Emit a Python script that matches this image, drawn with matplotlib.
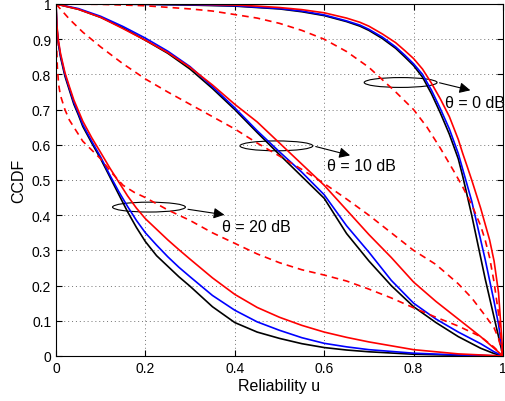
import matplotlib
matplotlib.use("Agg")
import matplotlib.pyplot as plt
from matplotlib.patches import Ellipse
from matplotlib.ticker import FormatStrFormatter

plt.rcParams['font.family'] = ['Liberation Sans', 'DejaVu Sans']

# theta = 0 dB
u0 = [0, 0.1, 0.2, 0.3, 0.4, 0.45, 0.5, 0.55, 0.6, 0.65, 0.68, 0.7, 0.73, 0.76, 0.78, 0.8, 0.82,
      0.84, 0.86, 0.88, 0.9, 0.91, 0.92, 0.93, 0.94, 0.95, 0.96, 0.97, 0.98, 0.99, 1.0]
black0 = [1, 1, 0.999, 0.997, 0.994, 0.99, 0.986, 0.978, 0.967, 0.95, 0.937, 0.925, 0.902, 0.874, 0.85, 0.825, 0.792,
          0.745, 0.69, 0.63, 0.56, 0.51, 0.455, 0.40, 0.34, 0.28, 0.22, 0.165, 0.11, 0.055, 0]
blue0 = [1, 1, 0.999, 0.998, 0.995, 0.991, 0.987, 0.98, 0.969, 0.952, 0.94, 0.928, 0.906, 0.878, 0.855, 0.83, 0.80,
         0.755, 0.702, 0.645, 0.575, 0.53, 0.485, 0.44, 0.385, 0.33, 0.275, 0.215, 0.155, 0.09, 0]
red0 = [1, 1, 1, 0.999, 0.997, 0.994, 0.99, 0.984, 0.975, 0.96, 0.948, 0.937, 0.915, 0.89, 0.868, 0.845, 0.815,
        0.775, 0.73, 0.68, 0.615, 0.575, 0.538, 0.50, 0.46, 0.42, 0.375, 0.33, 0.27, 0.18, 0]
ud0 = [0, 0.1, 0.2, 0.3, 0.35, 0.4, 0.45, 0.5, 0.55, 0.6, 0.65, 0.7, 0.73, 0.76, 0.8, 0.83, 0.86,
       0.89, 0.91, 0.93, 0.95, 0.96, 0.97, 0.98, 0.99, 1]
dash0 = [1, 0.999, 0.995, 0.986, 0.98, 0.97, 0.96, 0.945, 0.925, 0.90, 0.865, 0.82, 0.785, 0.75, 0.70, 0.65, 0.59,
         0.525, 0.48, 0.43, 0.37, 0.33, 0.28, 0.21, 0.12, 0]

# theta = 10 dB
u10 = [0, 0.05, 0.1, 0.15, 0.2, 0.25, 0.3, 0.35, 0.4, 0.45, 0.5, 0.55, 0.6, 0.65, 0.7, 0.75, 0.8,
       0.85, 0.9, 0.95, 0.98, 1]
black10 = [1, 0.985, 0.962, 0.932, 0.897, 0.86, 0.815, 0.76, 0.70, 0.635, 0.572, 0.51, 0.448, 0.348, 0.27, 0.2, 0.14,
           0.095, 0.055, 0.022, 0.007, 0]
blue10 = [1, 0.987, 0.965, 0.936, 0.903, 0.866, 0.822, 0.765, 0.705, 0.64, 0.58, 0.522, 0.458, 0.37, 0.295, 0.215, 0.15,
          0.105, 0.068, 0.035, 0.012, 0]
red10 = [1, 0.985, 0.962, 0.93, 0.897, 0.862, 0.82, 0.77, 0.715, 0.665, 0.605, 0.545, 0.485, 0.415, 0.345, 0.28, 0.21,
         0.155, 0.105, 0.055, 0.022, 0]
ud10 = [0, 0.03, 0.06, 0.1, 0.15, 0.2, 0.25, 0.3, 0.35, 0.4, 0.45, 0.5, 0.55, 0.6, 0.65, 0.7, 0.75,
        0.8, 0.85, 0.9, 0.93, 0.96, 0.98, 0.99, 1]
dash10 = [1, 0.957, 0.92, 0.878, 0.83, 0.787, 0.75, 0.715, 0.68, 0.645, 0.605, 0.568, 0.53, 0.49, 0.446, 0.40, 0.35,
          0.30, 0.26, 0.205, 0.165, 0.115, 0.08, 0.05, 0]

# theta = 20 dB
u20 = [0, 0.002, 0.005, 0.01, 0.02, 0.03, 0.04, 0.05, 0.06, 0.08, 0.1, 0.12, 0.14, 0.16, 0.18, 0.2,
       0.225, 0.25, 0.275, 0.3, 0.35, 0.4, 0.45, 0.5, 0.55, 0.6, 0.65, 0.7, 0.8, 0.9, 1]
black20 = [1, 0.93, 0.89, 0.85, 0.795, 0.755, 0.715, 0.685, 0.652, 0.605, 0.56, 0.51, 0.46, 0.41, 0.365, 0.325,
           0.285, 0.255, 0.225, 0.198, 0.14, 0.095, 0.068, 0.05, 0.035, 0.024, 0.017, 0.012, 0.005, 0.002, 0]
blue20 = [1, 0.935, 0.895, 0.855, 0.80, 0.76, 0.72, 0.69, 0.657, 0.61, 0.565, 0.515, 0.468, 0.425, 0.385, 0.35,
          0.315, 0.282, 0.252, 0.225, 0.172, 0.13, 0.097, 0.073, 0.052, 0.036, 0.026, 0.018, 0.008, 0.003, 0]
red20 = [1, 0.94, 0.90, 0.86, 0.805, 0.765, 0.727, 0.697, 0.667, 0.62, 0.578, 0.535, 0.495, 0.455, 0.42, 0.39,
         0.36, 0.33, 0.302, 0.275, 0.222, 0.175, 0.138, 0.11, 0.087, 0.068, 0.053, 0.04, 0.018, 0.006, 0]
ud20 = [0, 0.001, 0.003, 0.006, 0.01, 0.02, 0.03, 0.045, 0.06, 0.08, 0.1, 0.125, 0.15, 0.175, 0.2, 0.25,
        0.3, 0.35, 0.4, 0.45, 0.5, 0.55, 0.6, 0.65, 0.7, 0.75, 0.8, 0.85, 0.9, 0.95, 0.98, 1]
dash20 = [1, 0.9, 0.82, 0.77, 0.74, 0.70, 0.67, 0.64, 0.61, 0.585, 0.56, 0.52, 0.485, 0.465, 0.45, 0.415,
          0.385, 0.35, 0.32, 0.29, 0.265, 0.245, 0.23, 0.213, 0.19, 0.165, 0.137, 0.11, 0.085, 0.055, 0.025, 0]

fig = plt.figure(figsize=(5.06, 4.02), dpi=100)
ax = fig.add_axes([56/506, 45/402, 447/506, 352/402])

lw = 1.2
for u, k, b, r in [(u0, black0, blue0, red0), (u10, black10, blue10, red10), (u20, black20, blue20, red20)]:
    ax.plot(u, k, color='k', lw=lw)
    ax.plot(u, b, color='b', lw=lw)
    ax.plot(u, r, color='r', lw=lw)
for u, d in [(ud0, dash0), (ud10, dash10), (ud20, dash20)]:
    ax.plot(u, d, color='r', lw=lw, ls=(0, (4, 3)))

# ellipses, arrows and labels
notes = [
    ((0.771, 0.777), (0.852, 0.778), (0.933, 0.753), (0.87, 0.72), 'θ = 0 dB'),
    ((0.493, 0.597), (0.575, 0.597), (0.664, 0.568), (0.606, 0.54), 'θ = 10 dB'),
    ((0.208, 0.423), (0.289, 0.418), (0.383, 0.40), (0.371, 0.369), 'θ = 20 dB'),
]
for c, a0, a1, tp, txt in notes:
    ax.add_patch(Ellipse(c, 0.163, 0.028, fc='none', ec='k', lw=0.8))
    ax.annotate('', xy=a1, xytext=a0,
                arrowprops=dict(arrowstyle='-|>', color='k', lw=0.8, mutation_scale=16))
    ax.text(tp[0], tp[1], txt, fontsize=11.5, ha='left', va='center')

ax.set_xlim(0, 1)
ax.set_ylim(0, 1)
ax.set_xticks([0, 0.2, 0.4, 0.6, 0.8, 1])
ax.set_yticks([i / 10 for i in range(11)])
ax.xaxis.set_major_formatter(FormatStrFormatter('%g'))
ax.yaxis.set_major_formatter(FormatStrFormatter('%g'))
ax.tick_params(direction='in', top=True, right=True, labelsize=10, length=4, width=0.8)
ax.grid(True, ls=(0, (1, 3)), color='0.45', lw=0.7)
for s in ax.spines.values():
    s.set_linewidth(0.8)
ax.set_xlabel('Reliability u', fontsize=11.5, labelpad=2)
ax.set_ylabel('CCDF', fontsize=11.5, labelpad=4)

fig.savefig('out.png', dpi=100)
